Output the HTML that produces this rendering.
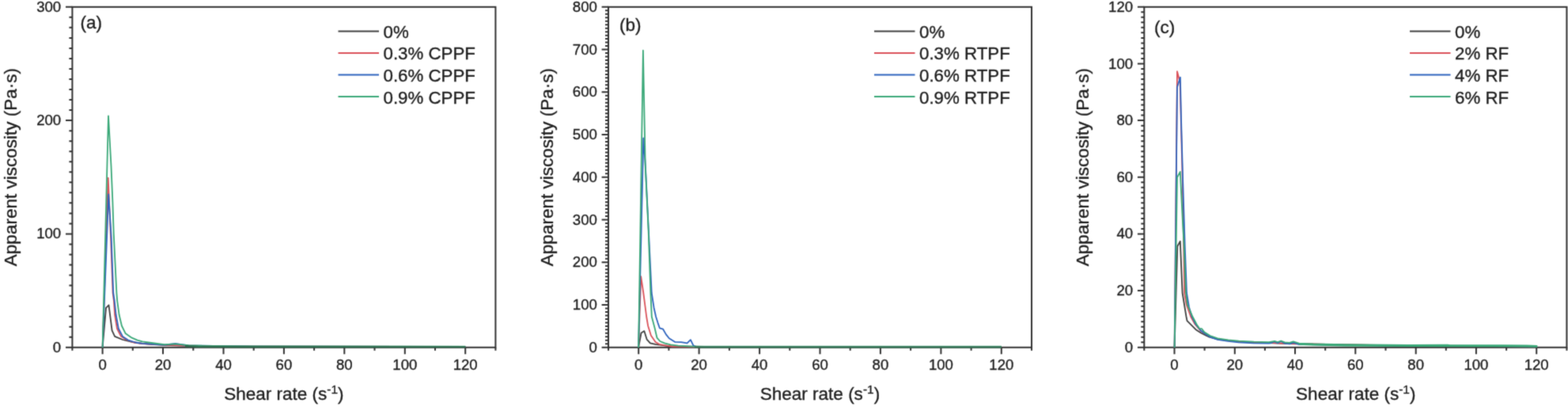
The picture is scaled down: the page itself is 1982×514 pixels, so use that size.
<!DOCTYPE html>
<html><head><meta charset="utf-8"><title>Apparent viscosity vs shear rate</title>
<style>
html,body{margin:0;padding:0;background:#fff;}
body{width:1982px;height:514px;overflow:hidden;}
svg text{font-family:"Liberation Sans",Arial,Helvetica,sans-serif;fill:#1e1e1e;stroke:#1e1e1e;stroke-width:0.35px;}
.tk{font-size:18.6px;}
.tt{font-size:22.5px;}
.sup{font-size:15.5px;}
.tg{font-size:22.5px;}
.lg{font-size:22.3px;}
</style></head><body>
<svg width="1982" height="514" viewBox="0 0 1982 514" style="display:block">
<defs><filter id="soft" x="0" y="0" width="1982" height="514" filterUnits="userSpaceOnUse" color-interpolation-filters="sRGB"><feConvolveMatrix order="3" kernelMatrix="0.0458 0.2140 0.0458 0.2140 1.0000 0.2140 0.0458 0.2140 0.0458" divisor="2.0392" edgeMode="duplicate" preserveAlpha="true"/></filter></defs>
<g filter="url(#soft)">
<rect width="1982" height="514" fill="#fff"/>
<g><rect x="91.4" y="8.8" width="535.0" height="429.95" fill="none" stroke="#333333" stroke-width="2"/>
<path d="M129.6 438.75v8.4M206.0 438.75v8.4M282.5 438.75v8.4M358.9 438.75v8.4M435.3 438.75v8.4M511.8 438.75v8.4M588.2 438.75v8.4M91.4 438.75v4M167.8 438.75v4M244.3 438.75v4M320.7 438.75v4M397.1 438.75v4M473.5 438.75v4M550.0 438.75v4M626.4 438.75v4M91.4 438.75h-8.4M91.4 425.72h-4M91.4 412.69h-4M91.4 399.66h-4M91.4 386.63h-4M91.4 373.61h-4M91.4 360.58h-4M91.4 347.55h-4M91.4 334.52h-4M91.4 321.49h-4M91.4 308.46h-4M91.4 295.43h-8.4M91.4 282.40h-4M91.4 269.38h-4M91.4 256.35h-4M91.4 243.32h-4M91.4 230.29h-4M91.4 217.26h-4M91.4 204.23h-4M91.4 191.20h-4M91.4 178.17h-4M91.4 165.15h-4M91.4 152.12h-8.4M91.4 139.09h-4M91.4 126.06h-4M91.4 113.03h-4M91.4 100.00h-4M91.4 86.97h-4M91.4 73.94h-4M91.4 60.92h-4M91.4 47.89h-4M91.4 34.86h-4M91.4 21.83h-4M91.4 8.80h-8.4" stroke="#333333" stroke-width="2" fill="none"/>
<polyline points="129.6,438.9 134.0,388.8 137.5,385.3 141.6,417.4 145.1,424.9 155.0,429.0 166.7,431.9 180.0,433.9 195.0,435.0 208.0,435.8 238.0,436.8 320.0,437.7 588.2,438.0" fill="none" stroke="#404040" stroke-width="1.8" stroke-linejoin="round"/>
<polyline points="129.6,438.9 136.7,224.7 140.0,300.0 142.6,370.0 143.9,380.0 145.1,397.5 148.0,415.0 152.7,424.4 159.7,429.0 169.0,432.5 180.0,434.0 208.0,435.6 238.0,436.6 320.0,437.7 588.2,438.0" fill="none" stroke="#da525a" stroke-width="1.8" stroke-linejoin="round"/>
<polyline points="129.6,438.9 137.2,245.4 140.7,300.0 143.2,370.0 144.7,380.0 146.6,397.5 149.8,415.0 155.0,424.9 162.0,429.6 171.4,432.5 180.0,433.9 208.0,435.6 221.6,434.0 238.3,436.3 320.0,437.6 588.2,437.9" fill="none" stroke="#2e64be" stroke-width="1.8" stroke-linejoin="round"/>
<polyline points="129.6,438.9 137.0,146.3 140.5,210.0 142.4,255.0 143.7,295.0 147.4,370.0 148.2,380.0 150.6,397.5 153.9,411.5 158.5,420.9 166.7,426.7 173.7,429.6 180.0,431.4 195.0,433.5 208.0,435.2 221.6,434.3 238.3,436.2 270.0,437.0 320.0,437.5 588.2,437.7" fill="none" stroke="#3aa878" stroke-width="1.8" stroke-linejoin="round"/>
<polyline points="234.0,437.0 250.0,437.8 300.0,438.0 588.4,438.1" fill="none" stroke="#2f6e50" stroke-width="2.4" stroke-linejoin="round"/>
<text transform="translate(129.6 467.2) scale(1 1.02)" text-anchor="middle" class="tk">0</text>
<text transform="translate(206.0 467.2) scale(1 1.02)" text-anchor="middle" class="tk">20</text>
<text transform="translate(282.5 467.2) scale(1 1.02)" text-anchor="middle" class="tk">40</text>
<text transform="translate(358.9 467.2) scale(1 1.02)" text-anchor="middle" class="tk">60</text>
<text transform="translate(435.3 467.2) scale(1 1.02)" text-anchor="middle" class="tk">80</text>
<text transform="translate(511.8 467.2) scale(1 1.02)" text-anchor="middle" class="tk">100</text>
<text transform="translate(588.2 467.2) scale(1 1.02)" text-anchor="middle" class="tk">120</text>
<text transform="translate(77.2 444.8) scale(1 1.02)" text-anchor="end" class="tk">0</text>
<text transform="translate(77.2 301.4) scale(1 1.02)" text-anchor="end" class="tk">100</text>
<text transform="translate(77.2 158.1) scale(1 1.02)" text-anchor="end" class="tk">200</text>
<text transform="translate(77.2 14.8) scale(1 1.02)" text-anchor="end" class="tk">300</text>
<text x="358.9" y="504.8" text-anchor="middle" class="tt">Shear rate (s<tspan class="sup" dy="-8">-1</tspan><tspan dy="8">)</tspan></text>
<text transform="translate(21.4 211.1) rotate(-90)" text-anchor="middle" class="tt">Apparent viscosity (Pa·s)</text>
<text x="101.5" y="36" class="tg">(a)</text>
<line x1="427.5" x2="479.0" y1="39.5" y2="39.5" stroke="#404040" stroke-width="1.8"/>
<text transform="translate(484.5 47.6) scale(1 1.02)" class="lg">0%</text>
<line x1="427.5" x2="479.0" y1="67.0" y2="67.0" stroke="#da525a" stroke-width="1.8"/>
<text transform="translate(484.5 75.3) scale(1 1.02)" class="lg">0.3% CPPF</text>
<line x1="427.5" x2="479.0" y1="94.5" y2="94.5" stroke="#2e64be" stroke-width="1.8"/>
<text transform="translate(484.5 102.9) scale(1 1.02)" class="lg">0.6% CPPF</text>
<line x1="427.5" x2="479.0" y1="122.0" y2="122.0" stroke="#3aa878" stroke-width="1.8"/>
<text transform="translate(484.5 130.6) scale(1 1.02)" class="lg">0.9% CPPF</text></g>
<g><rect x="769.0" y="8.8" width="535.0" height="429.95" fill="none" stroke="#333333" stroke-width="2"/>
<path d="M807.2 438.75v8.4M883.6 438.75v8.4M960.1 438.75v8.4M1036.5 438.75v8.4M1112.9 438.75v8.4M1189.4 438.75v8.4M1265.8 438.75v8.4M769.0 438.75v4M845.4 438.75v4M921.9 438.75v4M998.3 438.75v4M1074.7 438.75v4M1151.1 438.75v4M1227.6 438.75v4M1304.0 438.75v4M769.0 438.75h-8.4M769.0 434.27h-4M769.0 429.79h-4M769.0 425.31h-4M769.0 420.84h-4M769.0 416.36h-4M769.0 411.88h-4M769.0 407.40h-4M769.0 402.92h-4M769.0 398.44h-4M769.0 393.96h-4M769.0 389.48h-4M769.0 385.01h-8.4M769.0 380.53h-4M769.0 376.05h-4M769.0 371.57h-4M769.0 367.09h-4M769.0 362.61h-4M769.0 358.13h-4M769.0 353.66h-4M769.0 349.18h-4M769.0 344.70h-4M769.0 340.22h-4M769.0 335.74h-4M769.0 331.26h-8.4M769.0 326.78h-4M769.0 322.31h-4M769.0 317.83h-4M769.0 313.35h-4M769.0 308.87h-4M769.0 304.39h-4M769.0 299.91h-4M769.0 295.43h-4M769.0 290.95h-4M769.0 286.48h-4M769.0 282.00h-4M769.0 277.52h-8.4M769.0 273.04h-4M769.0 268.56h-4M769.0 264.08h-4M769.0 259.60h-4M769.0 255.13h-4M769.0 250.65h-4M769.0 246.17h-4M769.0 241.69h-4M769.0 237.21h-4M769.0 232.73h-4M769.0 228.25h-4M769.0 223.78h-8.4M769.0 219.30h-4M769.0 214.82h-4M769.0 210.34h-4M769.0 205.86h-4M769.0 201.38h-4M769.0 196.90h-4M769.0 192.42h-4M769.0 187.95h-4M769.0 183.47h-4M769.0 178.99h-4M769.0 174.51h-4M769.0 170.03h-8.4M769.0 165.55h-4M769.0 161.07h-4M769.0 156.60h-4M769.0 152.12h-4M769.0 147.64h-4M769.0 143.16h-4M769.0 138.68h-4M769.0 134.20h-4M769.0 129.72h-4M769.0 125.24h-4M769.0 120.77h-4M769.0 116.29h-8.4M769.0 111.81h-4M769.0 107.33h-4M769.0 102.85h-4M769.0 98.37h-4M769.0 93.89h-4M769.0 89.42h-4M769.0 84.94h-4M769.0 80.46h-4M769.0 75.98h-4M769.0 71.50h-4M769.0 67.02h-4M769.0 62.54h-8.4M769.0 58.07h-4M769.0 53.59h-4M769.0 49.11h-4M769.0 44.63h-4M769.0 40.15h-4M769.0 35.67h-4M769.0 31.19h-4M769.0 26.71h-4M769.0 22.24h-4M769.0 17.76h-4M769.0 13.28h-4M769.0 8.80h-8.4" stroke="#333333" stroke-width="2" fill="none"/>
<polyline points="807.1,438.9 810.5,420.5 814.3,418.1 817.6,428.6 821.9,433.4 828.6,434.8 838.1,436.2 847.7,437.5 883.4,437.9 1265.8,438.0" fill="none" stroke="#404040" stroke-width="1.8" stroke-linejoin="round"/>
<polyline points="807.1,438.9 810.2,349.1 813.3,370.0 817.2,400.0 819.1,411.4 822.9,423.8 828.6,431.9 833.4,434.8 840.0,436.2 849.6,437.5 883.4,437.9 1265.8,438.0" fill="none" stroke="#da525a" stroke-width="1.8" stroke-linejoin="round"/>
<polyline points="807.1,438.9 813.3,174.4 815.9,210.0 819.8,290.0 823.7,370.0 826.6,388.7 829.1,400.0 831.5,407.6 833.8,414.3 838.1,415.7 841.9,422.4 845.8,427.2 853.4,431.9 861.0,432.2 868.6,433.4 872.9,429.1 876.3,436.2 879.1,437.6 920.0,437.8 1265.8,437.9" fill="none" stroke="#2e64be" stroke-width="1.8" stroke-linejoin="round"/>
<polyline points="807.1,438.9 812.9,63.7 815.7,210.0 819.6,290.0 822.4,370.0 823.8,400.0 827.6,414.3 830.5,426.7 834.3,431.0 840.0,433.4 847.7,435.3 857.2,436.7 876.3,437.6 920.0,437.7 1265.8,437.7" fill="none" stroke="#3aa878" stroke-width="1.8" stroke-linejoin="round"/>
<polyline points="878.0,438.0 890.0,438.3 1266.0,438.3" fill="none" stroke="#38785a" stroke-width="2.4" stroke-linejoin="round"/>
<text transform="translate(807.2 467.2) scale(1 1.02)" text-anchor="middle" class="tk">0</text>
<text transform="translate(883.6 467.2) scale(1 1.02)" text-anchor="middle" class="tk">20</text>
<text transform="translate(960.1 467.2) scale(1 1.02)" text-anchor="middle" class="tk">40</text>
<text transform="translate(1036.5 467.2) scale(1 1.02)" text-anchor="middle" class="tk">60</text>
<text transform="translate(1112.9 467.2) scale(1 1.02)" text-anchor="middle" class="tk">80</text>
<text transform="translate(1189.4 467.2) scale(1 1.02)" text-anchor="middle" class="tk">100</text>
<text transform="translate(1265.8 467.2) scale(1 1.02)" text-anchor="middle" class="tk">120</text>
<text transform="translate(754.8 444.8) scale(1 1.02)" text-anchor="end" class="tk">0</text>
<text transform="translate(754.8 391.0) scale(1 1.02)" text-anchor="end" class="tk">100</text>
<text transform="translate(754.8 337.3) scale(1 1.02)" text-anchor="end" class="tk">200</text>
<text transform="translate(754.8 283.5) scale(1 1.02)" text-anchor="end" class="tk">300</text>
<text transform="translate(754.8 229.8) scale(1 1.02)" text-anchor="end" class="tk">400</text>
<text transform="translate(754.8 176.0) scale(1 1.02)" text-anchor="end" class="tk">500</text>
<text transform="translate(754.8 122.3) scale(1 1.02)" text-anchor="end" class="tk">600</text>
<text transform="translate(754.8 68.5) scale(1 1.02)" text-anchor="end" class="tk">700</text>
<text transform="translate(754.8 14.8) scale(1 1.02)" text-anchor="end" class="tk">800</text>
<text x="1036.5" y="504.8" text-anchor="middle" class="tt">Shear rate (s<tspan class="sup" dy="-8">-1</tspan><tspan dy="8">)</tspan></text>
<text transform="translate(699.0 211.1) rotate(-90)" text-anchor="middle" class="tt">Apparent viscosity (Pa·s)</text>
<text x="783" y="39" class="tg">(b)</text>
<line x1="1105" x2="1156.5" y1="39.5" y2="39.5" stroke="#404040" stroke-width="1.8"/>
<text transform="translate(1162.0 47.6) scale(1 1.02)" class="lg">0%</text>
<line x1="1105" x2="1156.5" y1="67.0" y2="67.0" stroke="#da525a" stroke-width="1.8"/>
<text transform="translate(1162.0 75.3) scale(1 1.02)" class="lg">0.3% RTPF</text>
<line x1="1105" x2="1156.5" y1="94.5" y2="94.5" stroke="#2e64be" stroke-width="1.8"/>
<text transform="translate(1162.0 102.9) scale(1 1.02)" class="lg">0.6% RTPF</text>
<line x1="1105" x2="1156.5" y1="122.0" y2="122.0" stroke="#3aa878" stroke-width="1.8"/>
<text transform="translate(1162.0 130.6) scale(1 1.02)" class="lg">0.9% RTPF</text></g>
<g><rect x="1446.3" y="8.8" width="534.1" height="429.95" fill="none" stroke="#333333" stroke-width="2"/>
<path d="M1484.5 438.75v8.4M1560.8 438.75v8.4M1637.0 438.75v8.4M1713.3 438.75v8.4M1789.7 438.75v8.4M1865.9 438.75v8.4M1942.2 438.75v8.4M1446.3 438.75v4M1522.6 438.75v4M1598.9 438.75v4M1675.2 438.75v4M1751.5 438.75v4M1827.8 438.75v4M1904.1 438.75v4M1980.4 438.75v4M1446.3 438.75h-8.4M1446.3 432.24h-4M1446.3 425.72h-4M1446.3 419.21h-4M1446.3 412.69h-4M1446.3 406.18h-4M1446.3 399.66h-4M1446.3 393.15h-4M1446.3 386.63h-4M1446.3 380.12h-4M1446.3 373.61h-4M1446.3 367.09h-8.4M1446.3 360.58h-4M1446.3 354.06h-4M1446.3 347.55h-4M1446.3 341.03h-4M1446.3 334.52h-4M1446.3 328.01h-4M1446.3 321.49h-4M1446.3 314.98h-4M1446.3 308.46h-4M1446.3 301.95h-4M1446.3 295.43h-8.4M1446.3 288.92h-4M1446.3 282.40h-4M1446.3 275.89h-4M1446.3 269.38h-4M1446.3 262.86h-4M1446.3 256.35h-4M1446.3 249.83h-4M1446.3 243.32h-4M1446.3 236.80h-4M1446.3 230.29h-4M1446.3 223.78h-8.4M1446.3 217.26h-4M1446.3 210.75h-4M1446.3 204.23h-4M1446.3 197.72h-4M1446.3 191.20h-4M1446.3 184.69h-4M1446.3 178.17h-4M1446.3 171.66h-4M1446.3 165.15h-4M1446.3 158.63h-4M1446.3 152.12h-8.4M1446.3 145.60h-4M1446.3 139.09h-4M1446.3 132.57h-4M1446.3 126.06h-4M1446.3 119.54h-4M1446.3 113.03h-4M1446.3 106.52h-4M1446.3 100.00h-4M1446.3 93.49h-4M1446.3 86.97h-4M1446.3 80.46h-8.4M1446.3 73.94h-4M1446.3 67.43h-4M1446.3 60.92h-4M1446.3 54.40h-4M1446.3 47.89h-4M1446.3 41.37h-4M1446.3 34.86h-4M1446.3 28.34h-4M1446.3 21.83h-4M1446.3 15.31h-4M1446.3 8.80h-8.4" stroke="#333333" stroke-width="2" fill="none"/>
<polyline points="1484.6,438.9 1488.3,311.0 1491.8,304.8 1494.6,370.0 1499.5,400.0 1500.5,405.2 1511.5,416.2 1518.1,420.5 1527.7,425.3 1539.1,428.3 1552.5,430.2 1565.8,431.6 1584.9,432.6 1603.9,433.2 1630.0,434.0 1700.0,435.5 1780.0,436.6 1942.9,437.4" fill="none" stroke="#404040" stroke-width="1.8" stroke-linejoin="round"/>
<polyline points="1484.6,438.9 1488.0,90.2 1491.6,104.0 1494.8,230.0 1497.2,370.0 1499.8,385.0 1505.2,400.0 1510.5,409.5 1517.1,417.2 1521.0,420.0 1529.6,424.8 1539.1,428.1 1552.5,430.0 1565.8,431.5 1584.9,432.4 1603.9,432.9 1630.0,433.8 1700.0,435.4 1780.0,436.5 1942.9,437.3" fill="none" stroke="#da525a" stroke-width="1.8" stroke-linejoin="round"/>
<polyline points="1484.6,438.9 1488.0,110.0 1491.9,97.7 1493.0,150.0 1495.2,230.0 1497.7,310.0 1500.0,370.0 1503.0,388.0 1506.7,400.0 1511.5,409.5 1518.1,417.8 1522.0,420.6 1529.6,425.6 1539.1,428.9 1552.5,430.9 1565.8,432.4 1584.9,433.3 1603.9,433.7 1607.0,433.0 1611.1,431.4 1615.0,433.2 1619.2,431.0 1624.0,433.6 1630.0,434.3 1634.8,432.6 1642.0,434.8 1700.0,435.8 1780.0,436.7 1942.9,437.4" fill="none" stroke="#2e64be" stroke-width="1.8" stroke-linejoin="round"/>
<polyline points="1484.6,438.9 1488.0,224.0 1491.8,216.9 1495.2,285.0 1496.6,310.0 1499.0,370.0 1501.0,385.0 1507.5,400.0 1512.5,409.5 1516.0,414.8 1519.1,415.2 1522.5,419.6 1529.6,424.0 1539.1,427.3 1552.5,429.3 1565.8,430.7 1584.9,431.7 1603.9,432.2 1611.1,430.8 1615.0,432.0 1619.2,430.5 1624.0,432.4 1630.0,432.9 1634.8,431.4 1642.0,433.6 1660.0,434.5 1700.0,435.2 1780.0,435.8 1830.0,435.7 1833.0,436.1 1900.0,436.1 1930.0,436.5 1943.2,437.0" fill="none" stroke="#3aa878" stroke-width="1.8" stroke-linejoin="round"/>
<polyline points="1642.0,434.6 1660.0,435.5 1700.0,436.3 1780.0,436.9 1900.0,437.1 1930.0,437.4 1943.2,437.6" fill="none" stroke="#3aa878" stroke-width="2.2" stroke-linejoin="round"/>
<text transform="translate(1484.5 467.2) scale(1 1.02)" text-anchor="middle" class="tk">0</text>
<text transform="translate(1560.8 467.2) scale(1 1.02)" text-anchor="middle" class="tk">20</text>
<text transform="translate(1637.0 467.2) scale(1 1.02)" text-anchor="middle" class="tk">40</text>
<text transform="translate(1713.3 467.2) scale(1 1.02)" text-anchor="middle" class="tk">60</text>
<text transform="translate(1789.7 467.2) scale(1 1.02)" text-anchor="middle" class="tk">80</text>
<text transform="translate(1865.9 467.2) scale(1 1.02)" text-anchor="middle" class="tk">100</text>
<text transform="translate(1942.2 467.2) scale(1 1.02)" text-anchor="middle" class="tk">120</text>
<text transform="translate(1432.1 444.8) scale(1 1.02)" text-anchor="end" class="tk">0</text>
<text transform="translate(1432.1 373.1) scale(1 1.02)" text-anchor="end" class="tk">20</text>
<text transform="translate(1432.1 301.4) scale(1 1.02)" text-anchor="end" class="tk">40</text>
<text transform="translate(1432.1 229.8) scale(1 1.02)" text-anchor="end" class="tk">60</text>
<text transform="translate(1432.1 158.1) scale(1 1.02)" text-anchor="end" class="tk">80</text>
<text transform="translate(1432.1 86.5) scale(1 1.02)" text-anchor="end" class="tk">100</text>
<text transform="translate(1432.1 14.8) scale(1 1.02)" text-anchor="end" class="tk">120</text>
<text x="1713.8" y="504.8" text-anchor="middle" class="tt">Shear rate (s<tspan class="sup" dy="-8">-1</tspan><tspan dy="8">)</tspan></text>
<text transform="translate(1376.3 211.1) rotate(-90)" text-anchor="middle" class="tt">Apparent viscosity (Pa·s)</text>
<text x="1459" y="42" class="tg">(c)</text>
<line x1="1782" x2="1833.5" y1="39.5" y2="39.5" stroke="#404040" stroke-width="1.8"/>
<text transform="translate(1839.0 47.6) scale(1 1.02)" class="lg">0%</text>
<line x1="1782" x2="1833.5" y1="67.0" y2="67.0" stroke="#da525a" stroke-width="1.8"/>
<text transform="translate(1839.0 75.3) scale(1 1.02)" class="lg">2% RF</text>
<line x1="1782" x2="1833.5" y1="94.5" y2="94.5" stroke="#2e64be" stroke-width="1.8"/>
<text transform="translate(1839.0 102.9) scale(1 1.02)" class="lg">4% RF</text>
<line x1="1782" x2="1833.5" y1="122.0" y2="122.0" stroke="#3aa878" stroke-width="1.8"/>
<text transform="translate(1839.0 130.6) scale(1 1.02)" class="lg">6% RF</text></g>
</g></svg>
</body></html>
